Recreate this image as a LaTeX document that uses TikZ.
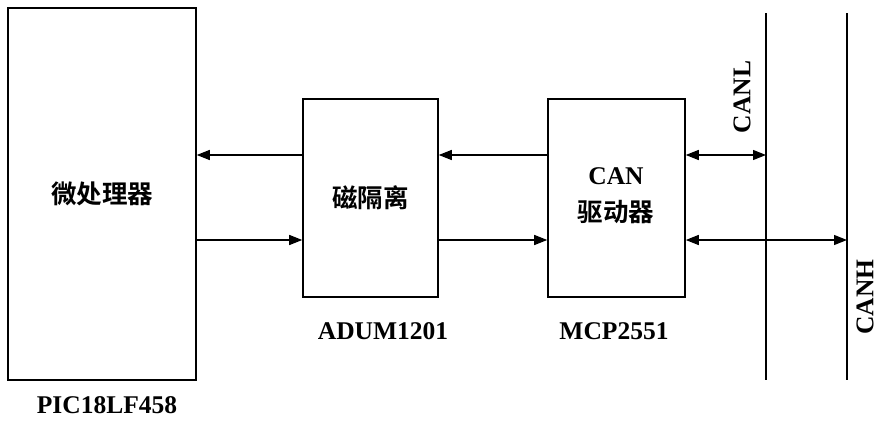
\documentclass[tikz,border=0pt]{standalone}
\usepackage{fontspec}
\setmainfont{Liberation Serif}
\newfontfamily\cjk{Noto Sans CJK SC}[BoldFont={Noto Sans CJK SC Bold}]
\usetikzlibrary{arrows.meta}
\begin{document}
\begin{tikzpicture}[x=1pt,y=-1pt,
  blk/.style={draw,line width=1.6pt,inner sep=0pt},
  lbl/.style={font=\fontsize{25.5}{27}\selectfont\bfseries},
  cjkt/.style={font=\fontsize{25.5}{30}\selectfont\cjk\bfseries},
  conn/.style={line width=1.3pt,-{Triangle[length=13pt,width=10pt]}},
  bconn/.style={line width=1.3pt,{Triangle[length=13pt,width=10pt]}-{Triangle[length=13pt,width=10pt]}},
  bus/.style={line width=1.6pt}]
\useasboundingbox (0,0) rectangle (878,423);
% blocks
\node[blk,minimum width=188pt,minimum height=372pt] (pic) at (102,194) {};
\node[cjkt] (pict) at (pic) {微处理器};
\node[blk,minimum width=135pt,minimum height=198pt] (iso) at (370.5,198) {};
\node[cjkt] (isot) at (iso) {磁隔离};
\node[blk,minimum width=137pt,minimum height=198pt] (drv) at (616.5,198) {};
\node[lbl] (drvt1) at (616,176) {CAN};
\node[cjkt] (drvt2) at (616,212) {驱动器};
% part labels
\node[lbl] (picl) at (107,405) {PIC18LF458};
\node[lbl] (isol) at (383,331) {ADUM1201};
\node[lbl] (drvl) at (614,331) {MCP2551};
% bus lines
\coordinate (lt) at (766,13);
\coordinate (lb) at (766,380);
\coordinate (ht) at (847,13);
\coordinate (hb) at (847,380);
\draw[bus] (lt) -- (lb);
\draw[bus] (ht) -- (hb);
\node[lbl,rotate=90,inner sep=0pt] (canl) at (742,97) {CANL};
\node[lbl,rotate=90,inner sep=0pt] (canh) at (865,297) {CANH};
% signal rows
\coordinate (r1) at (0,155);
\coordinate (r2) at (0,240);
\draw[conn] (iso.west |- r1) -- (pic.east |- r1);
\draw[conn] (pic.east |- r2) -- (iso.west |- r2);
\draw[conn] (drv.west |- r1) -- (iso.east |- r1);
\draw[conn] (iso.east |- r2) -- (drv.west |- r2);
\draw[bconn] (drv.east |- r1) -- (lt |- r1);
\draw[bconn] (drv.east |- r2) -- (ht |- r2);
\end{tikzpicture}
\end{document}
